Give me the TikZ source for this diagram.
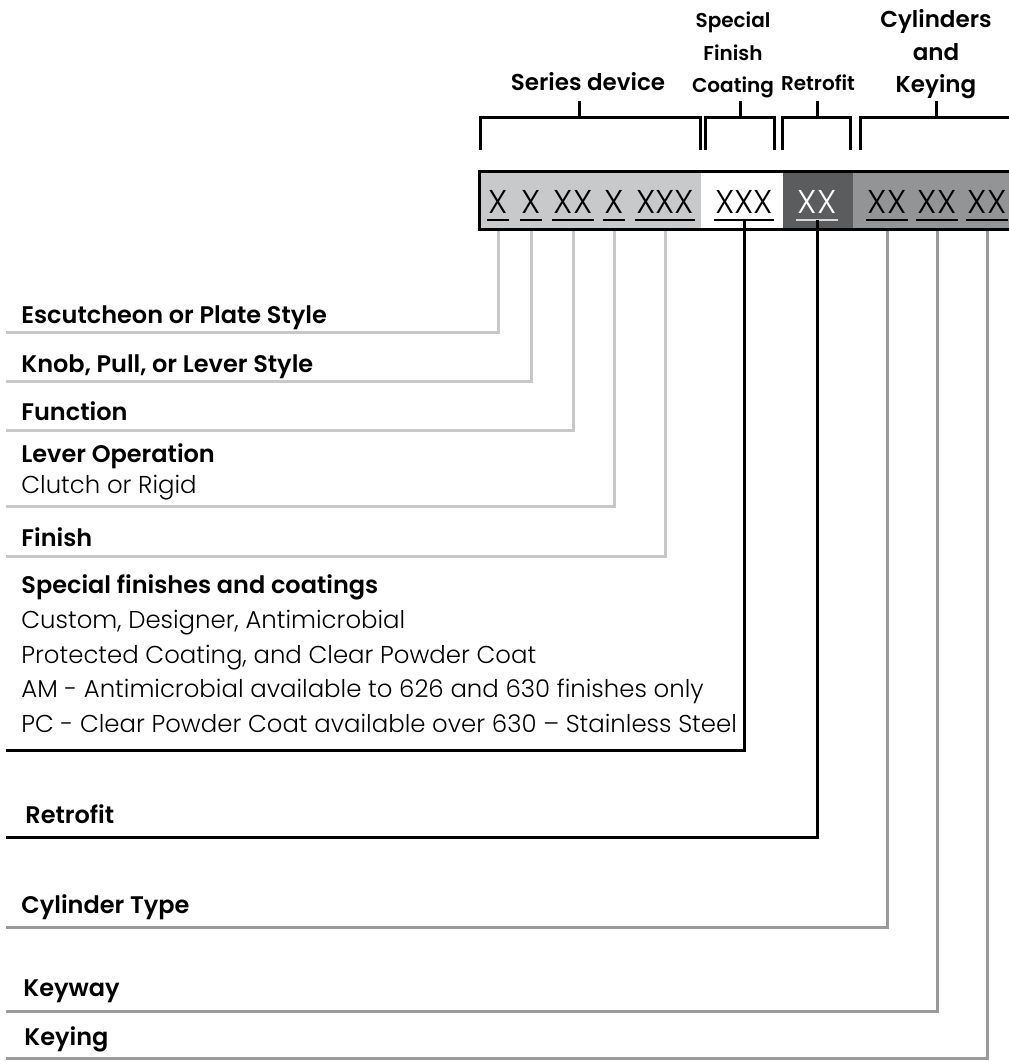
\documentclass[tikz,border=0pt]{standalone}
\usepackage{fontspec}
\setmainfont{Poppins}[BoldFont={Poppins SemiBold}]
\newfontfamily\codefont{Poppins Light}
\usetikzlibrary{positioning}
\definecolor{seglight}{HTML}{C8C9CB}
\definecolor{segdark}{HTML}{5B5C5E}
\definecolor{segmid}{HTML}{939496}
\definecolor{leadlight}{HTML}{C8C8C8}
\definecolor{leadmid}{HTML}{9A9A9A}
\definecolor{ulight}{HTML}{D8D8D8}

\begin{document}
\begin{tikzpicture}[x=0.5pt, y=-0.5pt,
  hdr/.style={font=\fontsize{11.5}{11.5}\selectfont\bfseries, anchor=base, inner sep=0},
  hdrs/.style={font=\fontsize{10}{10}\selectfont\bfseries, anchor=base, inner sep=0},
  code/.style={font=\fontsize{16.5}{16.5}\selectfont\codefont, anchor=base, inner xsep=0.5pt, inner ysep=0},
  lbl/.style={font=\fontsize{12}{12}\selectfont\bfseries, anchor=base west, inner sep=0},
  txt/.style={font=\fontsize{12.2}{12.2}\selectfont\codefont, anchor=base west, inner sep=0},
  brk/.style={line width=1.5pt},
  uline/.style={line width=1pt},
  lite/.style={line width=1.5pt, leadlight},
  midl/.style={line width=1.5pt, leadmid},
  blk/.style={line width=1.5pt, black}
]
\useasboundingbox (0,0) rectangle (1008,1061);

% group headings
\node[hdr] (ser) at (588,90) {Series device};
\node[hdrs] (spA) at (733,27) {Special};
\node[hdrs] (spB) at (733,60) {Finish};
\node[hdrs] (spC) at (733,92) {Coating};
\node[hdrs] (ret) at (818,90) {Retrofit};
\node[hdr] (cyA) at (936,27) {Cylinders};
\node[hdr] (cyB) at (936,60) {and};
\node[hdr] (cyC) at (936,92) {Keying};

% brackets
\draw[brk] (480,150) -- (480,117) -- (700,117) -- (700,150) (579,117) -- (579,101);
\draw[brk] (705,150) -- (705,117) -- (774,117) -- (774,150) (740,117) -- (740,101);
\draw[brk] (782,150) -- (782,117) -- (850,117) -- (850,150) (817,117) -- (817,101);
\draw[brk] (860,150) -- (860,117) -- (1015,117) (936,117) -- (936,101);

% code box
\fill[seglight] (478,170) rectangle (701,231);
\fill[white] (701,170) rectangle (783,231);
\fill[segdark] (783,170) rectangle (853,231);
\fill[segmid] (853,170) rectangle (1015,231);
\draw[line width=1.5pt] (479.5,171.5) rectangle (1015,229.5);
\coordinate (bb) at (0,231);

\foreach \n/\x/\t in {c1/498/X, c2/531/X, c3/573/XX, c4/614/X, c5/665/XXX,
    c6/744/XXX, c8/887/XX, c9/937/XX, c10/987/XX} {
  \node[code] (\n) at (\x,213) {\t};
  \draw[uline] ([yshift=-3.5pt]\n.base west) -- ([yshift=-3.5pt]\n.base east);
}
\node[code, text=white] (c7) at (817,213) {XX};
\draw[uline, ulight] ([yshift=-3.5pt]c7.base west) -- ([yshift=-3.5pt]c7.base east);

% labels
\node[lbl] (esc) at (21,323) {Escutcheon or Plate Style};
\node[lbl] (knob) at (21,372) {Knob, Pull, or Lever Style};
\node[lbl] (func) at (21,420) {Function};
\node[lbl] (lever) at (21,462) {Lever Operation};
\node[txt] (clutch) at (21,493) {Clutch or Rigid};
\node[lbl] (fin) at (21,546) {Finish};
\node[lbl] (spc) at (21,593) {Special finishes and coatings};
\node[txt] (spc1) at (21,628) {Custom, Designer, Antimicrobial};
\node[txt] (spc2) at (21,663) {Protected Coating, and Clear Powder Coat};
\node[txt] (spc3) at (21,697) {AM - Antimicrobial available to 626 and 630 finishes only};
\node[txt] (spc4) at (21,732) {PC - Clear Powder Coat available over 630 – Stainless Steel};
\node[lbl] (retl) at (25,823) {Retrofit};
\node[lbl] (cyt) at (21,913) {Cylinder Type};
\node[lbl] (kwy) at (23,996) {Keyway};
\node[lbl] (kng) at (24,1045) {Keying};

% line ends at the left
\coordinate (escL) at (6,332);
\coordinate (knobL) at (6,381);
\coordinate (funcL) at (6,430);
\coordinate (levL) at (6,506);
\coordinate (finL) at (6,556);
\coordinate (spcL) at (6,750);
\coordinate (retL) at (6,837);
\coordinate (cytL) at (6,927);
\coordinate (kwyL) at (6,1011);
\coordinate (kngL) at (6,1058);

% leaders
\draw[lite] (c1 |- bb) |- (escL);
\draw[lite] (c2 |- bb) |- (knobL);
\draw[lite] (c3 |- bb) |- (funcL);
\draw[lite] (c4 |- bb) |- (levL);
\draw[lite] (c5 |- bb) |- (finL);
\draw[blk] ([yshift=-3.5pt]c6.base) |- (spcL);
\draw[blk] ([yshift=-3.5pt]c7.base) |- (retL);
\draw[midl] (c8 |- bb) |- (cytL);
\draw[midl] (c9 |- bb) |- (kwyL);
\draw[midl] (c10 |- bb) |- (kngL);
\end{tikzpicture}
\end{document}
